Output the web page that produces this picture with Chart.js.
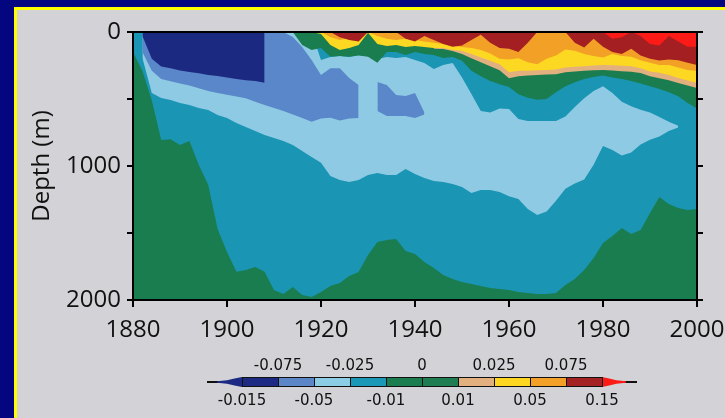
<!DOCTYPE html>
<html>
<head>
<meta charset="utf-8">
<script src="https://cdn.jsdelivr.net/npm/chart.js@4.4.0/dist/chart.umd.min.js"></script>
<style>
  html, body { margin: 0; padding: 0; }
  body { width: 725px; height: 418px; background: #04067f; position: relative; overflow: hidden; font-family: "DejaVu Sans", sans-serif; }
  #panel { position: absolute; left: 14px; top: 7px; right: 0; bottom: 0; border-top: 3px solid #ffff00; border-left: 3px solid #ffff00; background: #d3d3d7; }
  #wrap { position: absolute; left: 17px; top: 10px; width: 708px; height: 408px; }
  .cb { position: absolute; }
  .lbl { position: absolute; font-size: 15px; line-height: 16px; color: #111; transform: translateX(-50%); white-space: nowrap; }
</style>
</head>
<body>
<div id="panel"></div>
<div id="wrap"><canvas id="depthChart"></canvas></div>
<div id="colorbar"></div>
<script>
// years sampled every 2 years
const years = [1880, 1882, 1884, 1886, 1888, 1890, 1892, 1894, 1896, 1898,
  1900, 1902, 1904, 1906, 1908, 1910, 1912, 1914, 1916, 1918,
  1920, 1922, 1924, 1926, 1928, 1930, 1932, 1934, 1936, 1938,
  1940, 1942, 1944, 1946, 1948, 1950, 1952, 1954, 1956, 1958,
  1960, 1962, 1964, 1966, 1968, 1970, 1972, 1974, 1976, 1978,
  1980, 1982, 1984, 1986, 1988, 1990, 1992, 1994, 1996, 1998, 2000];

// depth (m) of the lower edge of the teal band (below it: green)
const tealBottom = [150, 290, 510, 806, 800, 843, 813, 993, 1140, 1470,
  1642, 1790, 1776, 1754, 1790, 1925, 1955, 1903, 1962, 1978,
  1940, 1895, 1873, 1821, 1791, 1664, 1567, 1552, 1545, 1634,
  1657, 1716, 1761, 1813, 1843, 1866, 1881, 1895, 1910, 1918,
  1925, 1940, 1948, 1955, 1955, 1948, 1888, 1843, 1776, 1687,
  1575, 1522, 1463, 1507, 1478, 1351, 1231, 1284, 1313, 1328, 1321];

// light blue band, top and bottom edges
const lightTop = [null, 0, 0, 0, 0, 0, 0, 0, 0, 0,
  0, 0, 0, 0, 0, 0, 0, 0, 0, 0,
  209, 187, 179, 187, 172, 179, 201, 187, 194, 187,
  209, 231, 276, 246, 231, 340, 463, 590, 600, 570,
  575, 650, 664, 664, 664, 664, 630, 560, 495, 440,
  405, 455, 520, 555, 580, 600, 635, 670, 700, null, null];
const lightBottom = [null, 194, 455, 493, 507, 530, 545, 567, 582, 620,
  642, 679, 709, 739, 769, 791, 813, 843, 888, 933,
  975, 1075, 1104, 1119, 1104, 1067, 1052, 1067, 1067, 1022,
  1060, 1090, 1112, 1119, 1134, 1157, 1202, 1179, 1179, 1194,
  1225, 1246, 1321, 1366, 1340, 1260, 1170, 1130, 1100, 990,
  850, 880, 922, 900, 840, 805, 780, 738, 712, null, null];

// medium blue band (two patches), top and bottom edges
const medTop = [null, 0, 0, 0, 0, 0, 0, 0, 0, 0,
  0, 0, 0, 0, 0, 0, 0, 37, 112, 209,
  320, 270, 270, 343, 395, null, 373, 396, 470, 478,
  455, 600, null, null, null, null, null, null, null, null,
  null, null, null, null, null, null, null, null, null, null,
  null, null, null, null, null, null, null, null, null, null, null];
const medBottom = [null, 150, 290, 350, 368, 385, 400, 420, 440, 456,
  468, 482, 495, 520, 545, 568, 590, 615, 642, 670,
  645, 640, 660, 645, 642, null, 590, 627, 627, 627,
  642, 615, null, null, null, null, null, null, null, null,
  null, null, null, null, null, null, null, null, null, null,
  null, null, null, null, null, null, null, null, null, null, null];

// dark navy patch from the surface down
const navyBottom = [null, 30, 200, 258, 270, 287, 298, 308, 320, 329,
  340, 350, 360, 366, 378, null, null, null, null, null,
  null, null, null, null, null, null, null, null, null, null,
  null, null, null, null, null, null, null, null, null, null,
  null, null, null, null, null, null, null, null, null, null,
  null, null, null, null, null, null, null, null, null, null, null];

// near-surface warm layers, depth of each lower edge
const greenUpper = [null, null, null, null, null, null, null, null, null, null,
  null, null, null, null, null, null, null, 0, 97, 134,
  120, 185, 180, 185, 175, 185, 230, 150, 150, 172,
  150, 164, 172, 194, 187, 215, 290, 330, 365, 390,
  410, 465, 490, 505, 500, 450, 405, 375, 350, 335,
  325, 340, 350, 365, 385, 405, 425, 450, 480, 530, 570];
const tanBottom = [null, null, null, null, null, null, null, null, null, null,
  null, null, null, null, null, null, null, null, null, null,
  null, null, null, null, null, null, null, null, null, null,
  null, null, 125, 127, 142, 165, 195, 225, 255, 285,
  345, 330, 325, 320, 318, 315, 300, 295, 290, 286,
  284, 288, 292, 296, 306, 330, 345, 360, 380, 400, 418];
const yellowBottom = [null, null, null, null, null, null, null, null, null, null,
  null, null, null, null, null, null, null, null, null, 0,
  15, 97, 134, 119, 97, 5, 90, 104, 97, 112,
  104, 112, 119, 119, 134, 140, 165, 190, 215, 240,
  300, 290, 290, 285, 284, 280, 265, 260, 255, 250,
  246, 248, 252, 256, 270, 295, 305, 320, 343, 362, 378];
const orangeBottom = [null, null, null, null, null, null, null, null, null, null,
  null, null, null, null, null, null, null, null, null, 0,
  0, 37, 60, 45, 30, 0, 30, 50, 60, 50,
  60, 70, 80, 90, 100, 112, 120, 134, 160, 200,
  205, 195, 225, 240, 200, 175, 130, 140, 165, 180,
  190, 165, 180, 185, 210, 230, 246, 246, 265, 284, 291];
const darkRedBottom = [null, null, null, null, null, null, null, null, null, null,
  null, null, null, null, null, null, null, null, null, 0,
  0, 0, 40, 60, 70, 0, 0, 0, 0, 50,
  70, 30, 60, 90, 110, 100, 60, 20, 80, 120,
  125, 150, 80, 0, 0, 0, 0, 80, 115, 50,
  110, 150, 165, 125, 175, 200, 212, 205, 210, 230, 246];
const redBottom = [null, null, null, null, null, null, null, null, null, null,
  null, null, null, null, null, null, null, null, null, null,
  null, null, null, null, null, null, null, null, null, null,
  null, null, null, null, null, null, null, null, null, null,
  null, null, null, null, null, null, null, null, null, 0,
  0, 50, 40, 0, 30, 90, 100, 30, 70, 110, 110];

// axis ticks
const xTicks = [1880, 1900, 1920, 1940, 1960, 1980, 2000];
const yTicks = [0, 500, 1000, 1500, 2000];
const yLabelled = [0, 1000, 2000];

// colour bar
const cbColors = ['#1d2a84', '#5b87c9', '#8ccde6', '#1a98b8', '#1a7d50', '#1e7d52', '#e2b07e', '#fcd620', '#f3a028', '#a52224'];
const cbTopLabels = ['-0.075', '-0.025', '0', '0.025', '0.075'];
const cbBottomLabels = ['-0.015', '-0.05', '-0.01', '0.01', '0.05', '0.15'];

const C = {
  green: '#1a7d50', teal: '#1a95b4', light: '#8ecae4', med: '#5a87c9', navy: '#1b2a80',
  tan: '#e2b07e', yellow: '#fdd822', orange: '#f3a026', darkred: '#a31f22', red: '#fc1b17'
};

function pts(arr) {
  return years.map((y, i) => ({ x: y, y: arr[i] }));
}

// layers are listed in painting order, first one at the bottom
const layers = [];
function addLayer(label, depths, color, fill) {
  layers.push({
    label: label,
    data: pts(depths),
    backgroundColor: color,
    borderColor: 'transparent',
    borderWidth: 0,
    pointRadius: 0,
    pointHoverRadius: 0,
    tension: 0,
    spanGaps: false,
    fill: fill
  });
  return layers.length - 1;
}
addLayer('teal', tealBottom, C.teal, { value: 0 });
const iLightTop = addLayer('lightTop', lightTop, 'transparent', false);
addLayer('light', lightBottom, C.light, iLightTop);
const iMedTop = addLayer('medTop', medTop, 'transparent', false);
addLayer('med', medBottom, C.med, iMedTop);
addLayer('navy', navyBottom, C.navy, { value: 0 });
addLayer('green', greenUpper, C.green, { value: 0 });
addLayer('tan', tanBottom, C.tan, { value: 0 });
addLayer('yellow', yellowBottom, C.yellow, { value: 0 });
addLayer('orange', orangeBottom, C.orange, { value: 0 });
addLayer('darkred', darkRedBottom, C.darkred, { value: 0 });
addLayer('red', redBottom, C.red, { value: 0 });
layers.forEach((d, i) => { d.order = layers.length - i; });

// deep green under everything
const plotBackground = {
  id: 'plotBackground',
  beforeDatasetsDraw(chart) {
    const { ctx, chartArea } = chart;
    ctx.save();
    ctx.fillStyle = C.green;
    ctx.fillRect(chartArea.left, chartArea.top, chartArea.right - chartArea.left, chartArea.bottom - chartArea.top);
    ctx.restore();
  }
};

const tickFont = { family: 'Open Sans', size: 24 };
const frame = { display: true, color: '#000', width: 2, z: 1 };

// fixed axis sizes; labels may run past the edge like in the original
function fixSize(w, h) {
  return s => {
    if (w !== null) s.width = w;
    if (h !== null) s.height = h;
    s.paddingLeft = 0; s.paddingRight = 0; s.paddingTop = 0; s.paddingBottom = 0;
  };
}

new Chart(document.getElementById('depthChart'), {
  type: 'line',
  data: { datasets: layers },
  plugins: [plotBackground],
  options: {
    responsive: true,
    maintainAspectRatio: false,
    animation: false,
    events: [],
    layout: { padding: 0 },
    plugins: { legend: { display: false }, tooltip: { enabled: false } },
    scales: {
      x: {
        type: 'linear', position: 'bottom', min: 1880, max: 2000,
        afterBuildTicks: s => { s.ticks = xTicks.map(v => ({ value: v })); },
        ticks: { font: tickFont, color: '#111', padding: 9, maxRotation: 0, autoSkip: false, callback: v => String(v) },
        grid: { drawOnChartArea: false, drawTicks: true, tickLength: 7, color: '#000', lineWidth: 2 },
        border: frame,
        afterFit: fixSize(null, 118)
      },
      x2: {
        type: 'linear', position: 'top', min: 1880, max: 2000,
        ticks: { display: false },
        grid: { display: false },
        border: frame,
        afterFit: fixSize(null, 22)
      },
      y: {
        type: 'linear', position: 'left', min: 0, max: 2000, reverse: true,
        afterBuildTicks: s => { s.ticks = yTicks.map(v => ({ value: v })); },
        ticks: { font: tickFont, color: '#111', padding: 6, autoSkip: false,
          callback: v => (yLabelled.includes(v) ? String(v) : '') },
        grid: { drawOnChartArea: false, drawTicks: true, tickLength: 6, color: '#000', lineWidth: 2 },
        border: frame,
        title: { display: true, text: 'Depth (m)', color: '#111', font: { family: 'Open Sans', size: 24 }, padding: { top: 11, bottom: 0 } },
        afterFit: fixSize(116, null)
      },
      y2: {
        type: 'linear', position: 'right', min: 0, max: 2000, reverse: true,
        afterBuildTicks: s => { s.ticks = yTicks.map(v => ({ value: v })); },
        ticks: { display: true, autoSkip: false, callback: () => '' },
        grid: { drawOnChartArea: false, drawTicks: true, tickLength: 6, color: '#000', lineWidth: 2 },
        border: frame,
        afterFit: fixSize(28, null)
      }
    }
  }
});

// colour bar legend under the plot
(function buildColorbar() {
  const host = document.getElementById('colorbar');
  const left = 242, box = 36, top = 377, h = 10;
  function el(css, text, cls) {
    const d = document.createElement('div');
    d.className = cls || 'cb';
    Object.assign(d.style, css);
    if (text !== undefined) d.textContent = text;
    host.appendChild(d);
    return d;
  }
  // pointed ends
  el({ left: '207px', top: (top + 4) + 'px', width: '20px', height: '2px', background: '#111' });
  el({ left: '217px', top: top + 'px', width: (left - 217) + 'px', height: h + 'px', background: cbColors[0],
    clipPath: 'polygon(0 42%, 40% 32%, 70% 15%, 100% 0, 100% 100%, 70% 85%, 40% 68%, 0 58%)' });
  const rightEnd = left + box * cbColors.length;
  el({ left: (rightEnd + 12) + 'px', top: (top + 4) + 'px', width: '23px', height: '2px', background: '#111' });
  el({ left: rightEnd + 'px', top: top + 'px', width: '24px', height: h + 'px', background: C.red,
    clipPath: 'polygon(0 0, 30% 15%, 60% 32%, 100% 42%, 100% 58%, 60% 68%, 30% 85%, 0 100%)' });
  // boxes
  cbColors.forEach((c, i) => {
    el({ left: (left + i * box) + 'px', top: top + 'px', width: (box + 1) + 'px', height: h + 'px',
      background: c, border: '1px solid #111', boxSizing: 'border-box' });
  });
  cbTopLabels.forEach((t, i) => {
    el({ left: (left + (2 * i + 1) * box) + 'px', top: '357px' }, t, 'lbl');
  });
  cbBottomLabels.forEach((t, i) => {
    el({ left: (left + 2 * i * box) + 'px', top: '392px' }, t, 'lbl');
  });
})();
</script>
</body>
</html>
